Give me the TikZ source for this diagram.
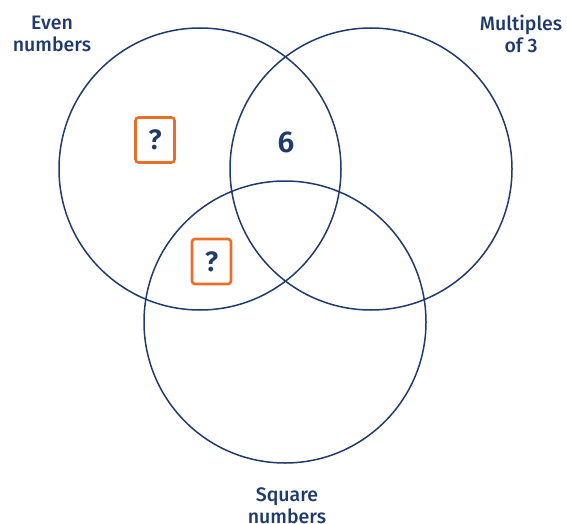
\documentclass[tikz,border=0pt]{standalone}
\usepackage{fontspec}
\setmainfont{Fira Sans}
\newfontfamily\labelfont{Fira Sans Medium}
\newfontfamily\numfont{Fira Sans SemiBold}
\definecolor{navy}{RGB}{31,58,108}
\definecolor{quizorange}{RGB}{233,110,40}

\begin{document}
\begin{tikzpicture}[x=1pt, y=-1pt,
  every node/.style = {text=navy, align=center},
  set/.style = {shape=circle, draw=navy, line width=1.5pt,
    minimum size=282pt, inner sep=0pt},
  setlabel/.style = {font=\labelfont\fontsize{19.5}{22.5}\selectfont},
  missing/.style = {shape=rectangle, rounded corners=3pt,
    draw=quizorange, line width=2.6pt,
    minimum width=39pt, minimum height=45pt,
    font=\numfont\fontsize{28}{30}\selectfont}]
  \useasboundingbox (0,0) rectangle (567,524);
  % the three sets
  \node[set] (even) at (200,169) {};
  \node[set] (three) at (371,169) {};
  \node[set] (square) at (285,322) {};
  % labels
  \node[setlabel] (evenlabel) at (52,34) {Even\\numbers};
  \node[setlabel] (threelabel) at (521,34) {Multiples\\of 3};
  \node[setlabel] (squarelabel) at (287,506) {Square\\numbers};
  % entries
  \node[font=\numfont\fontsize{30}{32}\selectfont] (six) at (286,142) {6};
  \node[missing] (evenonly) at (155,140) {?};
  \node[missing] (evensquare) at (211.5,261.5) {?};
\end{tikzpicture}
\end{document}
